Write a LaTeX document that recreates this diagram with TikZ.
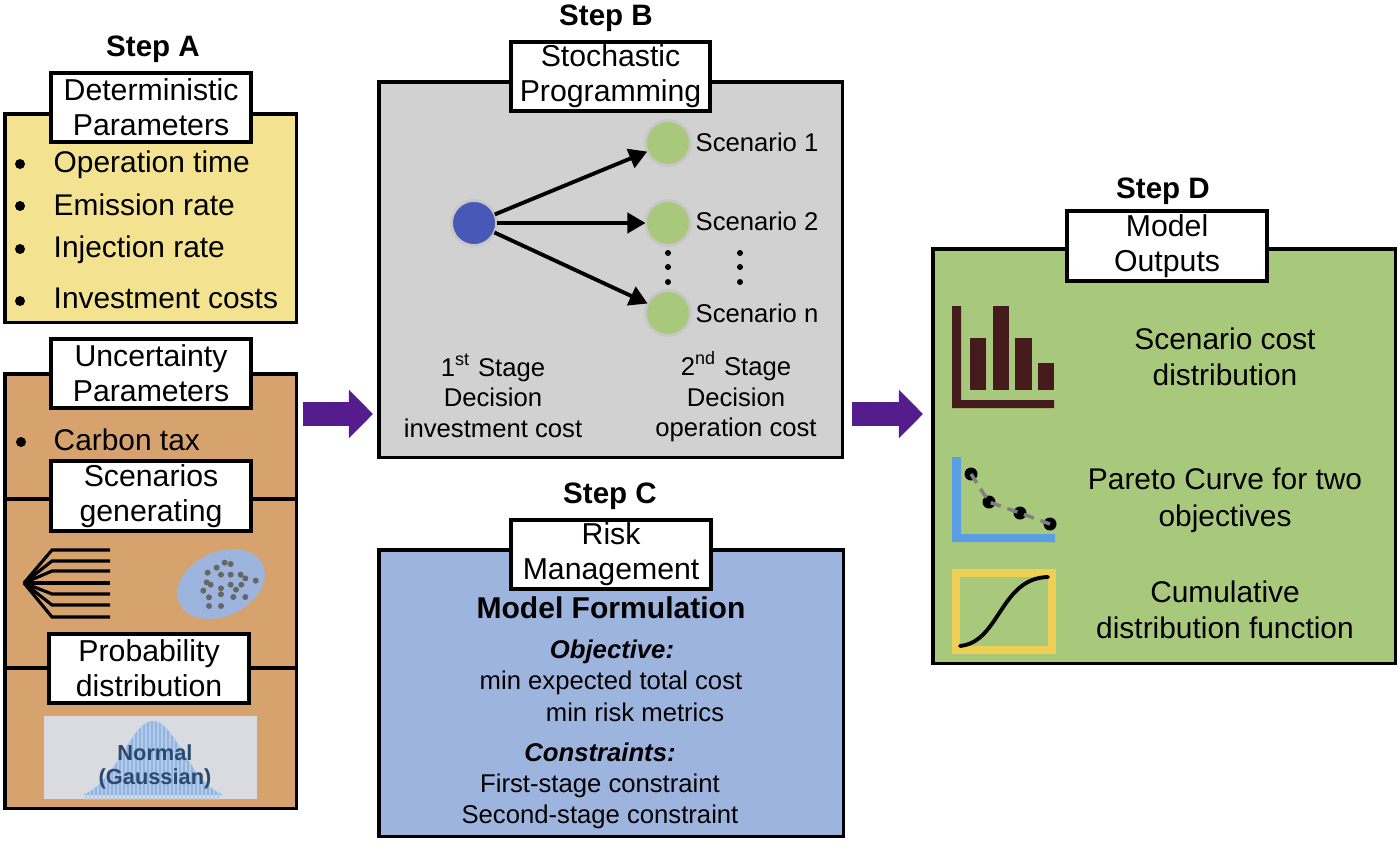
\documentclass[tikz,border=0pt]{standalone}
\usepackage{fontspec}
\setmainfont{Liberation Sans}
\usetikzlibrary{arrows.meta}
\definecolor{yellowbox}{RGB}{243,226,143}
\definecolor{orangebox}{RGB}{214,163,110}
\definecolor{graybox}{RGB}{209,209,209}
\definecolor{bluebox}{RGB}{157,181,222}
\definecolor{greenbox}{RGB}{168,200,124}
\definecolor{purplearrow}{RGB}{84,28,140}
\definecolor{darkbar}{RGB}{68,26,28}
\definecolor{bluecurve}{RGB}{92,158,228}
\definecolor{yellowframe}{RGB}{240,208,84}
\definecolor{firstnode}{RGB}{72,88,182}
\definecolor{imgback}{RGB}{218,219,224}
\definecolor{bellblue}{RGB}{146,180,224}
\definecolor{normaltxt}{RGB}{42,72,112}
\tikzset{
  panel/.style={draw=black,line width=.9pt,anchor=north west,inner sep=0pt,outer sep=0pt},
  titlebox/.style={draw=black,fill=white,line width=1pt,anchor=north west,inner sep=0pt,outer sep=0pt,
    align=center,font=\fontsize{8.6}{10}\selectfont},
  steplabel/.style={font=\fontsize{8.4}{10}\selectfont\bfseries},
  listitem/.style={anchor=west,inner sep=0pt,font=\fontsize{8.5}{10}\selectfont},
  dot/.style={fill=black,circle,inner sep=0pt,minimum size=.06cm},
  smalltxt/.style={align=center,inner sep=0pt,font=\fontsize{7.3}{8.7}\selectfont},
  scentxt/.style={anchor=west,inner sep=0pt,font=\fontsize{7.3}{9}\selectfont},
  formtxt/.style={inner sep=0pt,font=\fontsize{7.3}{9}\selectfont},
  formhead/.style={inner sep=0pt,font=\fontsize{7.3}{9}\selectfont\bfseries\itshape},
  outtxt/.style={align=center,inner sep=0pt,font=\fontsize{8.5}{10.4}\selectfont},
  circ/.style={circle,draw=black!22,line width=.8pt,minimum size=.45cm,inner sep=0pt,outer sep=0pt},
  scenarrow/.style={line width=1.1pt,-{Triangle[length=.18cm,width=.2cm]}},
  bigarrow/.style={purplearrow,line width=.24cm,-{Triangle[length=.24cm,width=.47cm]}},
}
\begin{document}
\begin{tikzpicture}[x=0.01cm,y=-0.01cm]
  \useasboundingbox (0,0) rectangle (1400,842);
  % panels
  \node[panel,fill=yellowbox,minimum width=2.91cm,minimum height=2.08cm] (detpanel) at (5,114) {};
  \node[panel,fill=orangebox,minimum width=2.91cm,minimum height=4.34cm] (uncpanel) at (5,374) {};
  \node[panel,fill=graybox,minimum width=4.63cm,minimum height=3.75cm] (stochpanel) at (379,82) {};
  \node[panel,fill=bluebox,minimum width=4.64cm,minimum height=2.86cm] (riskpanel) at (379,550) {};
  \node[panel,fill=greenbox,minimum width=4.62cm,minimum height=4.14cm] (outpanel) at (933,249) {};
  \draw[line width=.9pt] (5,499) -- (296,499);
  \draw[line width=.9pt] (5,668) -- (296,668);
  % step labels
  \node[steplabel] (stepA) at (153,49) {Step A};
  \node[steplabel] (stepB) at (606,18) {Step B};
  \node[steplabel] (stepC) at (610,496) {Step C};
  \node[steplabel] (stepD) at (1163,191) {Step D};
  % title boxes
  \node[titlebox,minimum width=2cm,minimum height=.69cm] (detbox) at (51,73) {Deterministic\\Parameters};
  \node[titlebox,minimum width=2cm,minimum height=.69cm] (uncbox) at (51,339) {Uncertainty\\Parameters};
  \node[titlebox,minimum width=2cm,minimum height=.7cm] (genbox) at (51,461) {Scenarios\\generating};
  \node[titlebox,minimum width=2cm,minimum height=.69cm] (probbox) at (49,634) {Probability\\distribution};
  \node[titlebox,minimum width=1.99cm,minimum height=.69cm] (stochbox) at (511,42) {Stochastic\\Programming};
  \node[titlebox,minimum width=2cm,minimum height=.69cm] (riskbox) at (511,520) {Risk\\Management};
  \node[titlebox,minimum width=2cm,minimum height=.7cm] (outbox) at (1067,211) {Model\\Outputs};
  % deterministic list
  \foreach \ypos/\name in {165/Operation time,205/Emission rate,250/Injection rate,298/Investment costs}
    \node[listitem] at (53,\ypos) {\name};
  \foreach \ypos in {164,206,249,301}
    \fill (20,\ypos) circle (5);
  \node[listitem] (carbon) at (53,440) {Carbon tax};
  \fill (21,442) circle (5);
  % scenario fan
  \coordinate (fan) at (24,583);
  \foreach \yend in {550,561,571,583,594,605,617}
    \draw[line width=.9pt] (fan) -- (52,\yend) -- (110,\yend);
  % scatter
  \fill[bluebox,rotate around={25:(221,584)}] (221,584) ellipse (46 and 32);
  \foreach \xd/\yd in {674/248,692/252,650/263,623/278,663/284,692/284,722/284,736/295,767/302,620/307,632/314,692/314,724/314,663/325,708/329,610/332,663/343,627/352,700/351,736/351,627/378,663/378}
    \fill[black!60] ({\xd/3},{480+\yd/3}) circle (3);
  % normal picture
  \fill[imgback] (44,716) rectangle (257,799);
  \begin{scope}
    \clip (44,716) rectangle (257,799);
    \fill[bellblue] plot[domain=83:223,samples=50,smooth] (\x,{800-79*exp(-((\x-153)^2)/(2*30*30))});
    \foreach \xs in {86,90,...,220}
      \draw[white!30!bellblue,line width=.3pt] (\xs,800) -- (\xs,{800-79*exp(-((\xs-153)^2)/(2*30*30))});
  \end{scope}
  \node[align=center,inner sep=0pt,text=normaltxt,font=\fontsize{6.2}{7}\selectfont\bfseries] (normal) at (155,767) {Normal\\(Gaussian)};
  % scenario tree
  \node[circ,fill=firstnode] (first) at (474,223) {};
  \node[circ,fill=greenbox] (scen1) at (668,143) {};
  \node[circ,fill=greenbox] (scen2) at (668,223) {};
  \node[circ,fill=greenbox] (scenn) at (668,313) {};
  \draw[scenarrow] (first) -- (scen1);
  \draw[scenarrow] (first) -- (scen2);
  \draw[scenarrow] (first) -- (scenn);
  \node[scentxt] at (695,142) {Scenario 1};
  \node[scentxt] at (695,221) {Scenario 2};
  \node[scentxt] at (695,313) {Scenario n};
  \foreach \xpos in {668,740}
    \foreach \ypos in {253,267,282}
      \node[dot] at (\xpos,\ypos) {};
  \node[smalltxt] (stage1) at (493,396) {1\textsuperscript{st} Stage\\Decision\\investment cost};
  \node[smalltxt] (stage2) at (736,397) {2\textsuperscript{nd} Stage\\Decision\\operation cost};
  % formulation
  \node[inner sep=0pt,font=\fontsize{8.55}{10}\selectfont\bfseries] (formtitle) at (611,608) {Model Formulation};
  \node[formhead] (objtxt) at (612,652) {Objective:};
  \node[formtxt] (mincost) at (611,683) {min expected total cost};
  \node[formtxt] (minrisk) at (635,712) {min risk metrics};
  \node[formhead] (contxt) at (600,752) {Constraints:};
  \node[formtxt] (firstcon) at (600,786) {First-stage constraint};
  \node[formtxt] (secondcon) at (600,817) {Second-stage constraint};
  % outputs
  \node[outtxt] (costtxt) at (1225,357) {Scenario cost\\distribution};
  \node[outtxt] (paretotxt) at (1225,500) {Pareto Curve for two\\objectives};
  \node[outtxt] (cdftxt) at (1225,610) {Cumulative\\distribution function};
  % bar icon
  \fill[darkbar] (952,306) -- (961,306) -- (961,400) -- (1054,400) -- (1054,408) -- (952,408) -- cycle;
  \foreach \xa/\xb/\ytop in {970/986/338,993/1009/306,1015/1032/338,1038/1054/363}
    \fill[darkbar] (\xa,\ytop) rectangle (\xb,390);
  % pareto icon
  \fill[bluecurve] (952,457) -- (961,457) -- (961,534) -- (1055,534) -- (1055,542) -- (952,542) -- cycle;
  \coordinate (p1) at (971,474);
  \coordinate (p2) at (989,502);
  \coordinate (p3) at (1020,513);
  \coordinate (p4) at (1050,524);
  \fill (p1) circle (6.5);
  \fill (p2) circle (6.5);
  \fill (p3) circle (6.5);
  \fill (p4) circle (6.5);
  \draw[black!50,line width=1pt,dash pattern=on 3pt off 2pt] (p1) -- (p2) -- (p3) -- (p4);
  % cdf icon
  \draw[yellowframe,line width=.08cm] (956,573) rectangle (1052,650);
  \draw[line width=1.1pt,line cap=round] (960,646) .. controls (1000,642) and (1000,578) .. (1048,577);
  % big arrows
  \coordinate (arrAstart) at (303,414);
  \coordinate (arrAend) at (373,414);
  \coordinate (arrBstart) at (852,414);
  \coordinate (arrBend) at (923,414);
  \draw[bigarrow] (arrAstart) -- (arrAend);
  \draw[bigarrow] (arrBstart) -- (arrBend);
\end{tikzpicture}
\end{document}
